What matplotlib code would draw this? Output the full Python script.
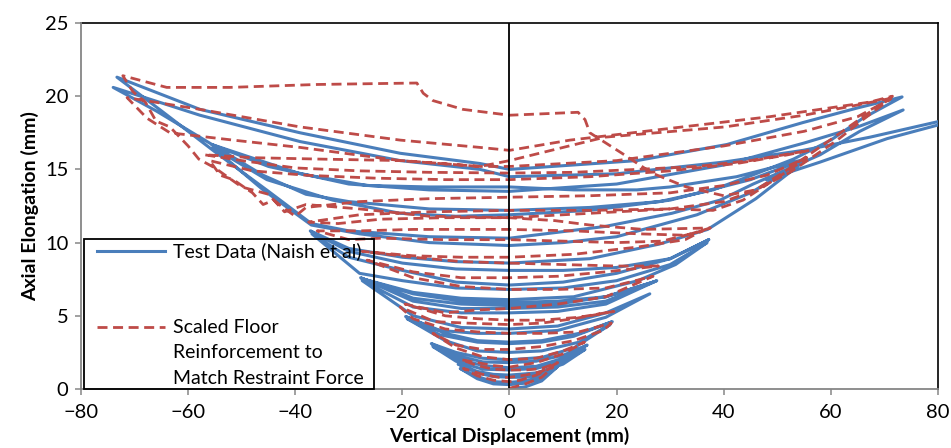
import matplotlib
matplotlib.use("Agg")
import matplotlib.pyplot as plt
from matplotlib.patches import Rectangle
from matplotlib.lines import Line2D

plt.rcParams['font.family'] = ['Lato', 'DejaVu Sans']

# ---------------- Test data (Naish et al): cycles grouped by amplitude ----------------
test_x_09 = [0, 3, 6, 8.9, 6, 3, 0, -3, -6, -9.2, -6, -3, 0,
             3, 6, 9.3, 6, 3, 0, -3, -6, -9.6, -6, -3, 0]
test_y_09 = [0.0, 0.15, 0.55, 1.5, 0.75, 0.4, 0.3, 0.35, 0.7, 1.4, 0.85, 0.5, 0.45,
             0.55, 0.85, 1.65, 1.0, 0.8, 0.8, 0.85, 1.1, 1.7, 1.2, 1.0, 0.95]

test_x_14 = [5, 10, 14.1, 10, 5, 0, -5, -10, -14.3, -10, -5, 0,
             5, 10, 14.5, 10, 5, 0, -5, -10, -14.6, -10, -5, 0]
test_y_14 = [1.1, 1.7, 2.7, 1.9, 1.4, 1.3, 1.35, 1.9, 2.9, 2.1, 1.6, 1.45,
             1.55, 2.1, 3.0, 2.3, 1.9, 1.8, 1.85, 2.3, 3.1, 2.5, 2.1, 2.0]

test_x_19 = [6, 12, 18.8, 13, 6, 0, -6, -12, -19.1, -13, -6, 0,
             6, 12, 19.2, 13, 6, 0, -6, -12, -19.4, -13, -6, 0]
test_y_19 = [2.15, 2.8, 4.4, 3.2, 2.6, 2.5, 2.6, 3.3, 4.8, 3.7, 3.2, 3.1,
             3.2, 3.6, 4.6, 3.8, 3.3, 3.2, 3.3, 3.8, 4.95, 4.0, 3.8, 3.8]

test_x_27 = [9, 18, 26.2, 18, 9, 0, -9, -18, -27.5, -18, -9, 0,
             9, 18, 27.5, 18, 9, 0, -9, -18, -27.8, -18, -9, 0,
             9, 18, 26.8, 18, 9, 0, -9, -18, -27.2, -18, -9, 0]
test_y_27 = [4.0, 4.9, 6.5, 5.2, 4.3, 4.1, 4.2, 5.0, 7.4, 5.6, 5.2, 5.2,
             5.3, 5.8, 7.4, 6.0, 5.6, 5.5, 5.5, 6.0, 7.6, 6.2, 5.8, 5.7,
             5.8, 6.3, 7.3, 6.3, 6.0, 5.9, 6.0, 6.5, 7.5, 6.6, 6.2, 6.1]

test_x_37 = [12, 24, 31, 36.9, 30, 20, 10, 0, -10, -20, -28, -36.9, -30, -20, -10, 0,
             10, 20, 30, 37.2, 30, 20, 10, 0, -10, -20, -30, -37.2, -30, -20, -10, 0]
test_y_37 = [6.3, 7.4, 8.5, 10.0, 8.5, 7.4, 6.9, 6.8, 6.9, 7.4, 7.9, 10.6, 9.0, 8.1, 7.3, 7.1,
             7.3, 7.9, 8.9, 10.2, 8.9, 8.3, 8.1, 8.1, 8.2, 8.6, 9.4, 10.8, 9.6, 9.0, 8.7, 8.6]

test_x_55 = [15, 28, 37, 46, 54.8, 45, 35, 20, 10, 0,
             -15, -28, -37, -46, -55.4, -45.3, -33, -20.4, -10, 0,
             15, 30, 45, 55.2, 42.4, 30, 23.8, 12, 0,
             -15, -26.6, -39.1, -55.6, -45, -30, -15, 0]
test_y_55 = [8.9, 9.9, 10.9, 13.0, 15.5, 13.4, 11.9, 10.4, 10.0, 9.8,
             10.0, 10.6, 11.2, 13.6, 16.5, 14.3, 12.9, 12.0, 11.8, 11.9,
             12.2, 12.9, 14.3, 15.7, 14.5, 13.8, 13.6, 13.6, 13.8,
             13.8, 13.9, 14.7, 16.7, 15.2, 14.0, 13.6, 13.5]

test_x_73 = [20, 40, 55, 65, 73.5, 65.4, 58, 51.8, 45.5, 39.3, 30.3, 17.8, 0,
             -15, -30, -37, -45, -55, -65, -73.3, -57.8, -39.1, -20.4, -5.5, 0,
             23.8, 40.6, 54.8, 65, 73.3, 66, 60, 53, 46, 38, 28, 15, 0,
             -15, -30, -38, -46, -56, -66, -74.0, -57.8, -39.1, -20.4, -5.5, 0]
test_y_73 = [14.0, 15.3, 16.8, 17.9, 19.06, 17.6, 16.0, 15.0, 14.0, 12.9, 12.0, 11.1, 10.3,
             10.4, 10.8, 11.3, 13.5, 16.2, 19.0, 21.3, 19.1, 17.5, 16.1, 15.4, 15.0,
             15.6, 16.7, 18.2, 19.2, 19.95, 18.5, 17.0, 15.7, 14.7, 13.6, 12.8, 12.4, 12.2,
             12.3, 12.8, 13.3, 14.6, 16.8, 19.0, 20.6, 18.7, 16.9, 15.6, 15.0, 14.5]

test_x_80 = [20, 40, 54.8, 67.3, 80, 83, 80, 70.5, 58, 48]
test_y_80 = [14.7, 15.5, 16.3, 17.2, 18.26, 18.7, 18.03, 17.1, 15.5, 14.3]

# ------------- Scaled floor reinforcement model: cycles grouped by amplitude -------------
scaled_x_09 = [0, 3, 6, 8.1, 5, 2, 0, -3, -6, -8.6, -5, -2, 0,
               3, 6, 9.0, 6, 3, 0, -3, -6, -9.0, -6, -3, 0]
scaled_y_09 = [0.05, 0.35, 0.8, 1.5, 0.95, 0.6, 0.5, 0.6, 0.9, 1.4, 1.0, 0.8, 0.8,
               0.95, 1.2, 1.8, 1.4, 1.3, 1.3, 1.35, 1.6, 2.0, 1.8, 1.6, 1.5]

scaled_x_14 = [5, 10, 14, 10, 5, 0, -5, -10, -14.3, -10, -5, 0]
scaled_y_14 = [1.8, 2.4, 3.2, 2.6, 2.1, 2.0, 2.2, 2.8, 3.8, 3.0, 2.7, 2.7]

scaled_x_19 = [6, 12, 17.5, 19, 13, 6, 0, -6, -12, -18, -20.4, -14, -8, 0,
               6, 12, 19.5, 13, 6, 0, -6, -12, -19.5, -12, -6, 0]
scaled_y_19 = [2.9, 3.3, 4.0, 4.5, 3.9, 3.8, 3.8, 3.9, 4.1, 4.8, 5.6, 4.6, 4.5, 4.4,
               4.5, 4.8, 5.3, 4.9, 4.7, 4.7, 4.8, 5.0, 5.8, 5.2, 5.4, 5.5]

scaled_x_27 = [9, 18, 26.8, 18, 9, 0, -9, -18, -26.6, -18, -9, 0,
               9, 18, 27.8, 20, 10, 0, -9, -18, -27.5, -18, -9, 0]
scaled_y_27 = [5.8, 6.3, 7.7, 6.9, 6.8, 6.8, 7.0, 7.6, 8.8, 8.0, 7.6, 7.6,
               7.7, 8.0, 8.4, 8.4, 8.5, 8.6, 8.7, 9.0, 9.4, 9.1, 9.0, 9.0]

scaled_x_37 = [12, 24, 32.8, 36, 28.5, 20, 10, 0, -12, -24, -30, -35.9, -28, -18, -8, 0,
               12, 24, 33, 37.5, 25, 15, 8.5, 0, -12, -24, -32, -37.5, -28, -15, 0]
scaled_y_37 = [9.2, 9.7, 10.2, 10.8, 10.1, 10.0, 10.1, 10.2, 10.2, 10.3, 10.2, 10.8, 10.8, 10.9, 10.9, 10.9,
               10.8, 10.6, 10.5, 11.0, 10.9, 11.2, 11.5, 11.7, 11.7, 11.6, 11.3, 11.4, 11.9, 12.1, 12.2]

scaled_x_55 = [15, 30, 38, 43.6, 52.4, 55.5, 48, 40, 30, 15, 0,
               -15, -28, -38, -40, -42.3, -44, -46, -48, -51.6, -54, -56,
               -48, -38, -25, -12, 0,
               15, 30, 42.4, 52, 56, 45, 35, 23.8, 12, 0,
               -15, -28, -40, -50, -57, -48, -35, -20, -5.5, 0]
scaled_y_55 = [12.2, 12.3, 12.2, 12.9, 15.0, 15.8, 14.6, 13.9, 13.4, 13.2, 13.1,
               13.0, 12.8, 12.4, 11.8, 12.4, 12.9, 12.6, 13.4, 14.3, 14.6, 15.6,
               14.9, 14.6, 14.4, 14.3, 14.3,
               14.5, 14.9, 15.4, 16.0, 16.3, 15.6, 15.2, 15.0, 14.8, 14.75,
               14.8, 14.9, 15.1, 15.6, 16.0, 15.8, 15.7, 15.6, 15.2, 15.2]

scaled_x_72 = [20, 40, 55, 65, 71.1, 66, 61.2, 52.4, 46, 40, 30, 15, 0,
               -15, -28, -38, -42, -45, -50, -55, -58, -60, -63.4, -66, -68, -70.3, -72.2,
               -64, -52.2, -35.9, -17.3, -16.1, -14.3, -8.7, 0, 12.8, 14.1, 15.0,
               21.0, 26.6, 33, 40, 46, 52, 61, 71.5,
               67.3, 48.6, 30, 11.3, 0, -5.5, -20.4, -39.1, -57.8, -71.4,
               -67.7, -63.4, -51.6, -39.1, -20.4, -5.5, 0,
               17.8, 40.2, 55, 65, 71.8]
scaled_y_72 = [15.6, 16.6, 17.6, 18.6, 19.8, 18.4, 17.0, 14.8, 13.6, 12.8, 12.3, 12.0, 11.7,
               11.8, 12.3, 12.6, 12.1, 13.3, 13.8, 15.1, 15.7, 16.6, 17.9, 18.3, 19.6, 20.3, 21.4,
               20.6, 20.6, 20.8, 20.9, 20.2, 19.7, 19.1, 18.7, 18.9, 18.4, 17.5,
               16.1, 14.75, 13.8, 13.2, 13.6, 15.0, 17.3, 20.0,
               19.6, 18.6, 17.8, 17.0, 16.3, 16.5, 17.0, 17.9, 19.1, 19.9,
               18.5, 17.5, 17.0, 16.5, 15.6, 15.2, 15.6,
               17.2, 17.9, 18.7, 19.4, 19.9]

test_series = [(test_x_09, test_y_09), (test_x_14, test_y_14), (test_x_19, test_y_19),
               (test_x_27, test_y_27), (test_x_37, test_y_37), (test_x_55, test_y_55),
               (test_x_73, test_y_73), (test_x_80, test_y_80)]
scaled_series = [(scaled_x_09, scaled_y_09), (scaled_x_14, scaled_y_14),
                 (scaled_x_19, scaled_y_19), (scaled_x_27, scaled_y_27),
                 (scaled_x_37, scaled_y_37), (scaled_x_55, scaled_y_55),
                 (scaled_x_72, scaled_y_72)]

x_ticks = [-80, -60, -40, -20, 0, 20, 40, 60, 80]
y_ticks = [0, 5, 10, 15, 20, 25]

BLUE = '#4A7EBB'
RED = '#BE4B48'
GREY = '#868686'

fig = plt.figure(figsize=(9.51, 4.48), dpi=100)
ax = fig.add_axes([0.0852, 0.1317, 0.9011, 0.817])

# one continuous record per series
tx, ty, sx, sy = [], [], [], []
for xs, ys in test_series:
    tx += xs
    ty += ys
for xs, ys in scaled_series:
    sx += xs
    sy += ys

ax.plot(tx, ty, color=BLUE, lw=2.2, solid_joinstyle='round', solid_capstyle='round', zorder=3)
ax.plot(sx, sy, color=RED, lw=2.0, dashes=(3.6, 2.0), dash_capstyle='butt', zorder=4)

ax.axvline(0, color='black', lw=1.3, zorder=5)

ax.set_xlim(-80, 80)
ax.set_ylim(0, 25)
ax.set_xticks(x_ticks)
ax.set_yticks(y_ticks)
ax.tick_params(axis='both', direction='out', length=4, width=1.1, color=GREY,
               labelsize=14.5)
ax.tick_params(axis='x', pad=7)
ax.tick_params(axis='y', pad=5)

for side in ('top', 'right'):
    ax.spines[side].set_color('black')
    ax.spines[side].set_linewidth(1.2)
for side in ('left', 'bottom'):
    ax.spines[side].set_color(GREY)
    ax.spines[side].set_linewidth(1.3)
    ax.spines[side].set_zorder(6)

ax.set_xlabel('Vertical Displacement (mm)', fontsize=14, fontweight='bold', labelpad=4)
ax.set_ylabel('Axial Elongation (mm)', fontsize=14, fontweight='bold', labelpad=4)

# legend box
ax.add_patch(Rectangle((0.0035, 0.0), 0.3388, 0.4098, transform=ax.transAxes,
                       facecolor='none', edgecolor='black', lw=1.3, zorder=7, clip_on=False))
ax.add_line(Line2D([0.0183, 0.098], [0.377, 0.377], transform=ax.transAxes,
                   color=BLUE, lw=2.2, zorder=7))
ax.add_line(Line2D([0.0183, 0.098], [0.169, 0.169], transform=ax.transAxes,
                   color=RED, lw=2.0, dashes=(3.6, 2.0), zorder=7))
ax.text(0.107, 0.377, 'Test Data (Naish et al)', transform=ax.transAxes,
        fontsize=14, va='center', ha='left', zorder=8)
for yy, line in zip([0.169, 0.0984, 0.030],
                    ['Scaled Floor', 'Reinforcement to', 'Match Restraint Force']):
    ax.text(0.107, yy, line, transform=ax.transAxes, fontsize=14,
            va='center', ha='left', zorder=8)

fig.savefig('out.png', dpi=100)
